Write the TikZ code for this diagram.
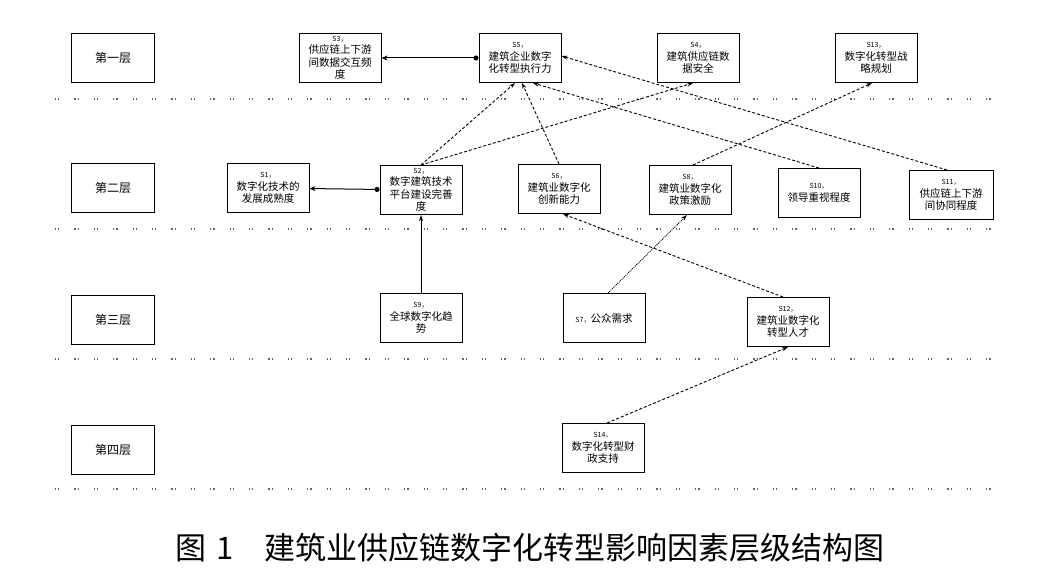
\documentclass[tikz,border=0pt]{standalone}
\usepackage{fontspec}
\setmainfont{Noto Sans CJK SC}
\usepackage{tikz}
\usetikzlibrary{positioning, arrows.meta}

\newcommand{\flabel}[1]{{\fontsize{7}{9}\selectfont #1}}

\begin{document}
\begin{tikzpicture}[
    x=1pt, y=-1pt,
    factor/.style={rectangle, draw=black, line width=1pt, minimum width=82pt, minimum height=49pt, inner sep=2pt, align=center, font=\fontsize{10.5}{12.5}\selectfont},
    layer/.style={rectangle, draw=black, line width=1pt, minimum width=83pt, minimum height=49pt, font=\fontsize{12}{14}\selectfont},
    sep/.style={black!60, line width=1.2pt, dash pattern=on 1.2pt off 2pt on 1.2pt off 15pt},
    link/.style={-{Stealth[length=6pt, width=4pt]}, line width=0.9pt, densely dashed},
    both/.style={{Stealth[length=6pt, width=5pt]}-{Circle[length=5pt]}, line width=1pt}
]
    \useasboundingbox (0,0) rectangle (1061,585);

    % Layers
    \node[layer] (l1) at (113,58) {第一层};
    \node[layer] (l2) at (113,188) {第二层};
    \node[layer] (l3) at (113,320) {第三层};
    \node[layer] (l4) at (113,450) {第四层};

    % Separators
    \foreach \y in {99,229,359,489}
        \draw[sep] (55,\y) -- (1000,\y);

    % Factors, first layer
    \node[factor] (s3) at (340,58) {\flabel{S3，}\\供应链上下游\\间数据交互频\\度};
    \node[factor] (s5) at (520,58) {\flabel{S5，}\\建筑企业数字\\化转型执行力};
    \node[factor] (s4) at (698,58) {\flabel{S4，}\\建筑供应链数\\据安全};
    \node[factor] (s13) at (876,58) {\flabel{S13，}\\数字化转型战\\略规划};

    % Factors, second layer
    \node[factor] (s1) at (268,188) {\flabel{S1，}\\数字化技术的\\发展成熟度};
    \node[factor] (s2) at (421,190) {\flabel{S2，}\\数字建筑技术\\平台建设完善\\度};
    \node[factor] (s6) at (559,189) {\flabel{S6，}\\建筑业数字化\\创新能力};
    \node[factor] (s8) at (690,190) {\flabel{S8，}\\建筑业数字化\\政策激励};
    \node[factor] (s10) at (819,193) {\flabel{S10，}\\领导重视程度};
    \node[factor, minimum width=84pt] (s11) at (951,195) {\flabel{S11，}\\供应链上下游\\间协同程度};

    % Factors, third layer
    \node[factor] (s9) at (421,318) {\flabel{S9，}\\全球数字化趋\\势};
    \node[factor] (s7) at (604,318) {\flabel{S7，}公众需求};
    \node[factor] (s12) at (788,322) {\flabel{S12，}\\建筑业数字化\\转型人才};

    % Factors, fourth layer
    \node[factor] (s14) at (603,448) {\flabel{S14，}\\数字化转型财\\政支持};

    % Connections
    \draw[both] (s3) -- (s5);
    \draw[both] (s1) -- (s2);
    \draw[-{Stealth[length=6pt, width=4pt]}, line width=1pt] (s9) -- (s2);
    \draw[link] (s2.north) -- ([xshift=-5pt]s5.south);
    \draw[link] (s2.north) -- ([xshift=-5pt]s4.south);
    \draw[link] (s6.north) -- ([xshift=2pt]s5.south);
    \draw[link] (s10.north) -- ([xshift=13pt]s5.south);
    \draw[link] ([xshift=-4pt]s11.north) -- ([yshift=2pt]s5.east);
    \draw[link] ([xshift=3pt]s8.north) -- ([xshift=-4pt]s13.south);
    \draw[link, densely dotted] ([xshift=4pt]s7.north) -- ([xshift=-3pt]s8.south);
    \draw[link] ([xshift=-5pt]s12.north) -- ([xshift=4pt]s6.south);
    \draw[link] ([xshift=4pt]s14.north) -- (s12.south);

    \node[font=\fontsize{31}{34}\selectfont] (cap) at (530,548) {图\hspace{0.3em}1\hspace{1em}建筑业供应链数字化转型影响因素层级结构图};

\end{tikzpicture}
\end{document}
